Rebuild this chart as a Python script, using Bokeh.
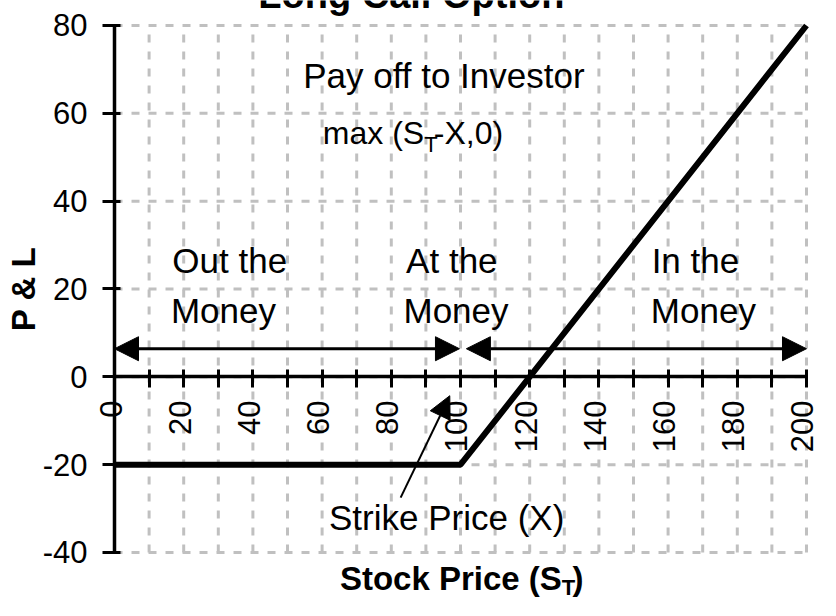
from math import pi
from bokeh.plotting import figure
from bokeh.models import Label, Arrow, NormalHead, FixedTicker, Range1d, ColumnDataSource
from bokeh.embed import file_html
from bokeh.resources import INLINE

# ---- data ----
stock_price = [0, 100, 200]
payoff = [-20, -20, 80]
x_limits = [0, 200]
y_limits = [-40, 80]
x_tick_values = [0, 20, 40, 60, 80, 100, 120, 140, 160, 180, 200]
x_minor_values = [0, 10, 20, 30, 40, 50, 60, 70, 80, 90, 100, 110, 120, 130, 140, 150, 160, 170, 180, 190, 200]
y_tick_values = [-40, -20, 0, 20, 40, 60, 80]
y_tick_labels = ["-40", "-20", "0", "20", "40", "60", "80"]

region_arrow_y = [6.4, 6.4]
region_arrow_start = [0, 101.7]
region_arrow_end = [99.7, 200]

strike_arrow_start = [82.7, -27.5]
strike_arrow_end = [96.9, -4.3]

region_labels = ["Out the", "Money", "At the", "Money", "In the", "Money"]
region_label_x = [33.3, 31.5, 97.5, 98.7, 167.9, 170.2]
region_label_y = [26.4, 15.1, 26.4, 15.1, 26.4, 15.1]

title_text = "Long Call Option"
payoff_text = "Pay off to Investor"
formula_parts = ["max (S", "T", "-X,0)"]
strike_text = "Strike Price (X)"
xlabel_parts = ["Stock Price (S", "T", ")"]
ylabel_text = "P & L"

FONT = "Liberation Sans"
GRID = "#c0c0c0"

# The frame covers the whole canvas; the visible axes cross at (0, 0) and the
# margins around the 0..200 x -40..80 box hold tick labels and titles.
W, H = 820, 600
view_x = [-32.95, 204.05]
view_y = [-50.93, 85.69]

p = figure(width=W, height=H,
           x_range=Range1d(*view_x), y_range=Range1d(*view_y),
           output_backend="svg", toolbar_location=None,
           min_border_left=0, min_border_right=0,
           min_border_top=0, min_border_bottom=0)
p.outline_line_color = None
p.background_fill_color = "white"
p.border_fill_color = "white"
p.xgrid.visible = False
p.ygrid.visible = False

# dashed grey grid confined to the plotting box
n_vx = len(x_minor_values)
n_hy = len(y_tick_values)
p.segment(x0=x_minor_values, y0=[y_limits[0]] * n_vx, x1=x_minor_values, y1=[y_limits[1]] * n_vx,
          line_color=GRID, line_width=3, line_dash="8 9", level="underlay")
p.segment(x0=[x_limits[0]] * n_hy, y0=y_tick_values, x1=[x_limits[1]] * n_hy, y1=y_tick_values,
          line_color=GRID, line_width=3, line_dash="8 9", level="underlay")

# x axis crossing at y=0 (ticks only; labels drawn as text)
xa = p.xaxis[0]
xa.fixed_location = 0
xa.bounds = tuple(x_limits)
xa.ticker = FixedTicker(ticks=[], minor_ticks=x_minor_values)
xa.axis_line_width = 3.5
xa.axis_line_color = "black"
xa.minor_tick_in = 7
xa.minor_tick_out = 11
xa.minor_tick_line_width = 3
xa.minor_tick_line_color = "black"

# y axis at x=0
ya = p.yaxis[0]
ya.fixed_location = 0
ya.bounds = tuple(y_limits)
ya.ticker = FixedTicker(ticks=y_tick_values)
ya.major_label_overrides = dict(zip(y_tick_values, y_tick_labels))
ya.axis_line_width = 3.5
ya.axis_line_color = "black"
ya.major_tick_in = 6
ya.major_tick_out = 12
ya.major_tick_line_width = 3
ya.major_tick_line_color = "black"
ya.minor_tick_line_color = None
ya.major_label_standoff = 15
ya.major_label_text_font = FONT
ya.major_label_text_font_size = "31px"
ya.major_label_text_color = "black"

# payoff line
p.line(stock_price, payoff, line_width=6, line_color="black")

# region arrows (double headed)
arrow_src = ColumnDataSource(dict(x0=region_arrow_start, x1=region_arrow_end,
                                  y0=region_arrow_y, y1=region_arrow_y))
p.add_layout(Arrow(source=arrow_src, x_start="x0", y_start="y0", x_end="x1", y_end="y1",
                   line_width=3, line_color="black",
                   start=NormalHead(size=24, fill_color="black", line_color="black"),
                   end=NormalHead(size=24, fill_color="black", line_color="black")))

# strike price pointer
p.add_layout(Arrow(x_start=strike_arrow_start[0], y_start=strike_arrow_start[1],
                   x_end=strike_arrow_end[0], y_end=strike_arrow_end[1],
                   line_width=2, line_color="black",
                   end=NormalHead(size=22, fill_color="black", line_color="black")))

def lab(x, y, text, size, align="left", bold=False, angle=0, x_offset=0):
    p.add_layout(Label(x=x, y=y, text=text, text_font=FONT, text_font_size=size,
                       text_align=align, text_baseline="middle", angle=angle,
                       x_offset=x_offset,
                       text_font_style="bold" if bold else "normal", text_color="black"))

# x tick labels, rotated, just below the y=0 axis
for v in x_tick_values:
    lab(v, -5.4, str(v), "31px", align="right", angle=pi / 2, x_offset=-4)

for t, x, y in zip(region_labels, region_label_x, region_label_y):
    lab(x, y, t, "35px", align="center")

lab(95.2, 68.5, payoff_text, "35px", align="center")
lab(89.5, 55.6, formula_parts[0], "32px", align="right")
lab(89.5, 53.0, formula_parts[1], "22px", align="left")
lab(92.3, 55.6, formula_parts[2], "32px", align="left")

lab(96.0, -32.1, strike_text, "35px", align="center")

# axis titles
lab(129.3, -45.9, xlabel_parts[0], "33px", align="right", bold=True)
lab(129.3, -47.9, xlabel_parts[1], "22px", align="left", bold=True)
lab(132.4, -45.9, xlabel_parts[2], "33px", align="left", bold=True)
lab(-26.3, 20.0, ylabel_text, "33px", align="center", bold=True, angle=pi / 2)

# title (cut off at the top edge, as in the reference)
lab(85.8, 86.83, title_text, "38px", align="center", bold=True)

open("out.html", "w").write(file_html(p, INLINE))
